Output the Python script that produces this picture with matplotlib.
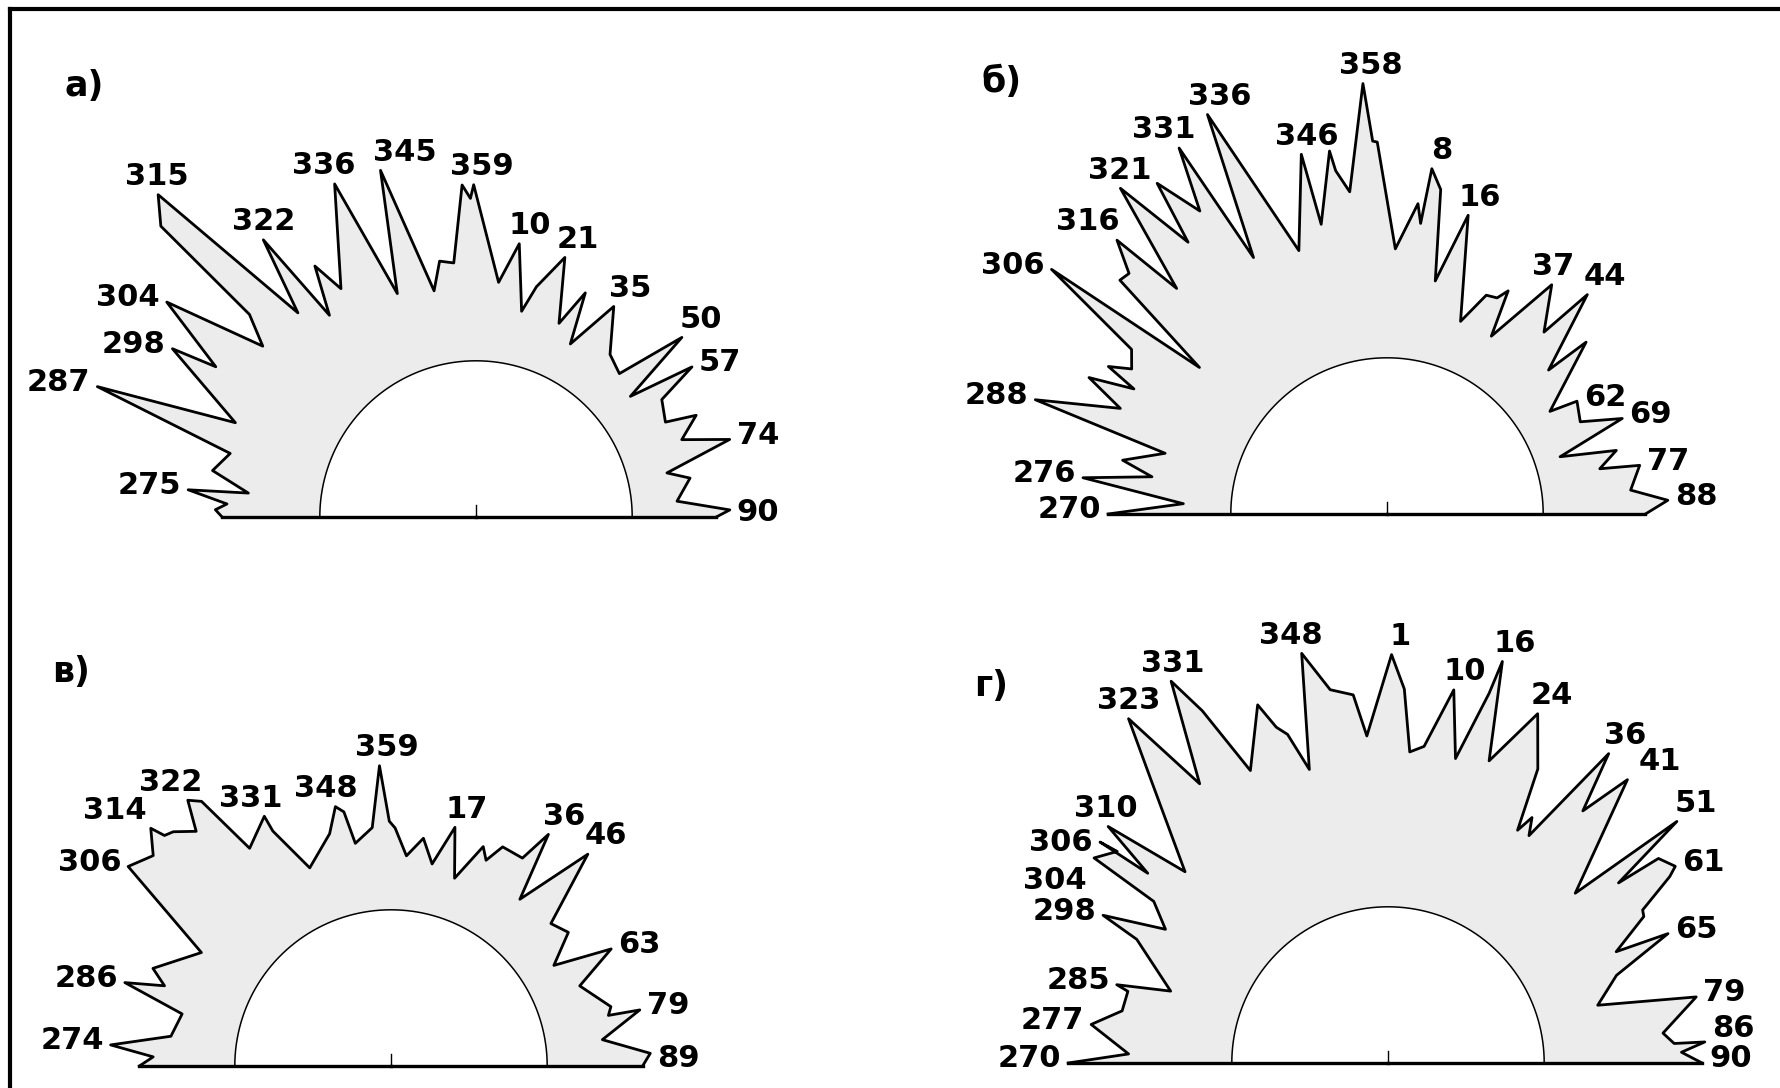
import numpy as np
import matplotlib
matplotlib.use('Agg')
import matplotlib.pyplot as plt
from matplotlib.lines import Line2D

# azimuth (deg) of the outline vertices and the rose value at each one
a_az = [270, 271.6, 273, 275.4, 276, 280, 284.5, 289, 291.4, 299,
        300, 304.8, 308.7, 311.8, 312.7, 315.4, 318.9, 322.5, 324, 327.3,
        329.4, 337, 340.6, 344.6, 349.5, 351.9, 355, 357.6, 359, 359.6,
        5.5, 9, 12.5, 14.7, 18.9, 23.2, 26, 28.6, 33.2, 39.5,
        45, 48.9, 52, 55.2, 57.7, 63.4, 65.2, 69.4, 73, 77,
        79.7, 85.5, 88.4, 90]
a_val = [8.6, 9.2, 8.2, 11.7, 6.4, 9.8, 8.6, 21.5, 9.0, 16.8,
         12.7, 19.4, 10.3, 13.0, 24.0, 26.1, 10.1, 17.0, 8.2, 12.5,
         9.6, 18.1, 7.1, 17.9, 6.5, 9.0, 8.7, 15.5, 14.3, 15.5,
         7.0, 10.6, 4.8, 7.2, 10.4, 4.8, 8.2, 3.6, 8.4, 4.8,
         4.1, 10.3, 3.5, 9.4, 5.6, 4.9, 7.6, 5.6, 9.6, 3.5,
         5.4, 4.0, 8.6, 7.4]
a_labels = [275, 287, 298, 304, 315, 322, 336, 345, 359, 10, 21, 35, 50, 57, 74, 90]

b_az = [270, 272.9, 276.8, 279, 281.5, 285.3, 288, 291.6, 294.6, 296.3,
        297.9, 299.6, 302.8, 306.1, 308, 311.2, 313, 315.4, 317, 320.7,
        323.8, 325.2, 328.3, 330.4, 332.5, 335.8, 341.5, 346.6, 347.2, 351,
        351.5, 353.4, 356.8, 357.8, 358.5, 1.8, 5.7, 6.6, 7.4, 9.4,
        11.7, 15.2, 20.9, 24.4, 27, 28.5, 30.4, 35.7, 40.8, 42.4,
        48.3, 49.2, 57.8, 59.3, 64.5, 67.9, 71.7, 74.5, 78, 79.1,
        84.4, 87.2, 90]
b_val = [10.8, 4.2, 13.2, 7.2, 10.0, 6.5, 18.8, 11.5, 15.1, 11.1,
         14.0, 12.1, 13.0, 22.8, 7.2, 17.5, 17.3, 20.1, 13.4, 23.3,
         15.9, 21.7, 17.6, 23.3, 11.7, 24.8, 10.7, 18.8, 12.4, 18.6,
         16.8, 14.8, 24.2, 19.1, 19.0, 9.6, 13.7, 12.0, 16.9, 15.2,
         7.2, 13.5, 4.4, 7.4, 7.6, 8.6, 4.4, 11.1, 7.4, 12.4,
         5.3, 9.4, 3.2, 5.7, 5.1, 8.6, 2.3, 7.2, 5.4, 8.9,
         7.8, 11.0, 9.0]
b_labels = [270, 276, 288, 306, 316, 321, 331, 336, 346, 358, 8, 16, 37, 44, 62, 69, 77, 88]

c_az = [270, 272.2, 274.3, 277.7, 284, 287.4, 289.5, 292.3, 300.9, 307.2,
        311.5, 314.7, 315.5, 317.1, 320.3, 322.6, 324.4, 327, 333.1, 333.3,
        337.7, 345.2, 347.9, 349.5, 350.9, 355.5, 357.8, 359.6, 1, 4.2,
        8.1, 11.5, 15, 18.7, 22.8, 24.8, 27, 32.3, 34.2, 37.7,
        42.9, 48.3, 53, 58.3, 62, 67, 74.9, 76.9, 77.3, 82.9,
        87.2, 90]
c_val = [8.4, 7.2, 11.0, 5.8, 5.2, 10.8, 7.4, 8.9, 5.7, 15.3,
         14.2, 16.0, 14.7, 14.4, 13.1, 15.7, 14.9, 9.1, 10.9, 9.4,
         5.1, 7.4, 9.6, 9.0, 6.1, 7.3, 12.7, 7.8, 7.2, 4.8,
         6.5, 4.4, 8.0, 3.7, 7.2, 6.2, 7.9, 7.9, 10.9, 4.8,
         11.7, 5.1, 5.8, 3.1, 8.2, 4.3, 6.3, 5.9, 8.7, 5.0,
         9.1, 8.4]
c_labels = [274, 286, 306, 314, 322, 331, 348, 359, 17, 36, 46, 63, 79, 89]

d_az = [270, 272, 277.4, 281.1, 285.4, 286.1, 288.3, 296.2, 297.4, 301,
        304.6, 304.9, 308, 307.5, 308.3, 310.2, 313.3, 320.1, 323, 326,
        330.4, 332.2, 334.8, 340, 341.6, 343, 345, 348.1, 351.2, 354.6,
        356.3, 0.5, 2.5, 4, 6.5, 10, 12.5, 15.3, 15.9, 18.5,
        23.2, 27, 29.1, 30.4, 31.8, 35.5, 37.7, 40.2, 47.8, 50.1,
        52.0, 52.9, 55.6, 56.5, 59.0, 60.2, 64.0, 65.2, 69, 74.6,
        77.9, 83.8, 86.1, 86.2, 87.9, 90]
d_val = [14.4, 9.1, 12.6, 10.1, 10.0, 11.1, 6.4, 10.9, 14.5, 9.1,
         11.3, 17.8, 16.5, 18.2, 13.2, 18.5, 10.8, 18.8, 24.2, 15.9,
         24.9, 21.3, 14.7, 19.8, 17.4, 16.5, 13.0, 23.1, 19.5, 18.8,
         15.1, 22.2, 19.2, 13.7, 14.3, 19.6, 13.7, 20.0, 23.0, 14.3,
         19.7, 15.3, 9.7, 11.3, 9.8, 19.7, 14.3, 18.9, 8.5, 19.4,
         12.0, 16.1, 16.9, 16.0, 12.4, 12.2, 8.6, 13.4, 7.8, 5.4,
         14.0, 10.6, 11.5, 14.2, 12.1, 13.9]
d_labels = [270, 277, 285, 298, 304, 306, 310, 323, 331, 348, 1, 10, 16, 24,
            36, 41, 51, 61, 65, 79, 86, 90]

panels = [(a_az, a_val, a_labels, 'а)'),
          (b_az, b_val, b_labels, 'б)'),
          (c_az, c_val, c_labels, 'в)'),
          (d_az, d_val, d_labels, 'г)')]

W, H = 1781, 1088
centers = [(476, 517), (1387, 514), (391, 1066), (1388, 1063)]   # pixels
tag_pos = [(64, 86), (982, 82), (52, 672), (974, 686)]
R0 = 13.75          # radius of the inner (zero) circle
RMAX = 30
PX = 11.36          # pixels per unit
FS = 22

# hand nudges (points) so labels sit where the original has them
nudge = {(0, 336): (-10, 0), (0, 345): (14, 0), (0, 90): (0, -5),
         (1, 316): (-20, 0), (1, 331): (-12, 0), (1, 336): (7, 0), (1, 37): (-11, 0),
         (2, 314): (-25, 0), (2, 322): (-12, 0), (2, 331): (-11, 0), (2, 348): (-11, 0),
         (2, 89): (0, -7),
         (3, 304): (0, -19), (3, 306): (0, -3), (3, 348): (-12, 0), (3, 41): (11, 0),
         (3, 86): (0, 7)}


def signed(a):
    a = np.asarray(a, dtype=float)
    return np.where(a > 180, a - 360, a)


def assign_peaks(s, v, labels):
    n = len(v)
    cand = [i for i in range(n)
            if (i == 0 or v[i] >= v[i - 1]) and (i == n - 1 or v[i] >= v[i + 1])]
    pairs = []
    for lab in labels:
        ls = lab - 360 if lab > 180 else lab
        for i in cand:
            d = abs(s[i] - ls)
            if d <= 6:
                pairs.append((v[i] - 1.3 * d, lab, i))
    pairs.sort(reverse=True)
    out, used = {}, set()
    for sc, lab, i in pairs:
        if lab in out or i in used:
            continue
        out[lab] = i
        used.add(i)
    for lab in labels:
        if lab not in out:
            ls = lab - 360 if lab > 180 else lab
            out[lab] = int(np.argmin(np.abs(s - ls)))
    return out


fig = plt.figure(figsize=(W / 100, H / 100), dpi=100)

rad = (R0 + RMAX) * PX
for k, ((az, val, labels, tag), (cx, cy), (tx, ty)) in enumerate(zip(panels, centers, tag_pos)):
    ax = fig.add_axes([(cx - rad) / W, (H - cy - rad) / H, 2 * rad / W, 2 * rad / H],
                      projection='polar')
    ax.set_theta_zero_location('N')
    ax.set_theta_direction(-1)
    ax.set_ylim(-R0, RMAX)
    ax.axis('off')

    s = signed(az)
    v = np.asarray(val)
    th = np.radians(s)
    arc = np.radians(np.linspace(90, -90, 181))
    ax.fill(np.r_[th, arc], np.r_[v, np.zeros_like(arc)], facecolor='#ececec',
            edgecolor='none', zorder=1)
    ax.plot(th, v, color='black', lw=2.0, zorder=3)
    ax.plot(arc, np.zeros_like(arc), color='black', lw=1.1, zorder=3)
    ax.plot([-np.pi / 2, -np.pi / 2], [v[0], -R0], color='black', lw=2.4, zorder=3)
    ax.plot([np.pi / 2, np.pi / 2], [-R0, v[-1]], color='black', lw=2.4, zorder=3)
    ax.plot([0, 0], [-R0, -R0 + 1.1], color='black', lw=1.0, zorder=3)

    peaks = assign_peaks(s, v, labels)
    for lab in labels:
        i = peaks[lab]
        if s[i] <= -52:
            off, ha, va = (-5, 3), 'right', 'center'
        elif s[i] >= 52:
            off, ha, va = (5, 3), 'left', 'center'
        else:
            off, ha, va = (6 + 10 * np.sin(th[i]), 7), 'center', 'baseline'
        nx, ny = nudge.get((k, lab), (0, 0))
        ax.annotate(str(lab), xy=(th[i], v[i]), xytext=(off[0] + nx, off[1] + ny),
                    textcoords='offset points', ha=ha, va=va, fontsize=FS,
                    fontweight='bold', family='DejaVu Sans', annotation_clip=False)

    fig.text(tx / W, 1 - ty / H, tag, ha='left', va='center', fontsize=25,
             fontweight='bold', family='DejaVu Sans')

# frame: top and left edges
fig.add_artist(Line2D([10 / W, 1], [1 - 9 / H, 1 - 9 / H], transform=fig.transFigure,
                      color='black', lw=3))
fig.add_artist(Line2D([10 / W, 10 / W], [0, 1 - 9 / H], transform=fig.transFigure,
                      color='black', lw=3))

fig.savefig('out.png', dpi=100)
